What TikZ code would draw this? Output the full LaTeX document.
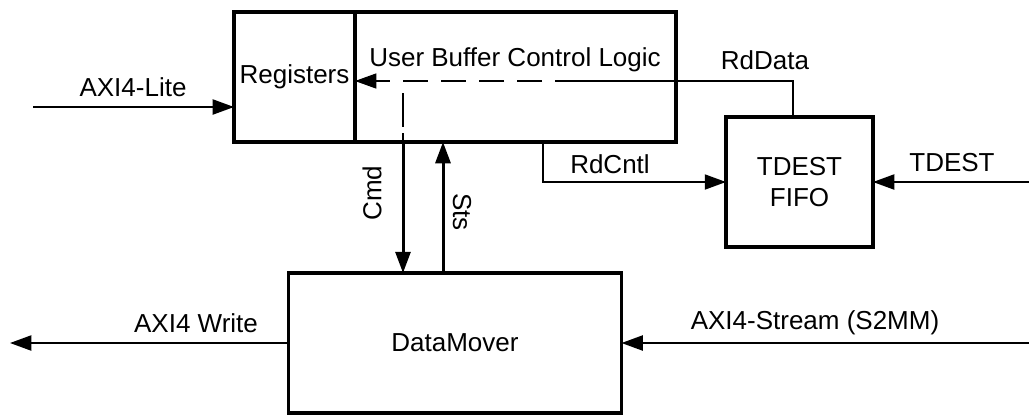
\documentclass[tikz,border=0pt]{standalone}
\usepackage{fontspec}
\setmainfont{Liberation Sans}
\usetikzlibrary{arrows.meta}

\begin{document}
\begin{tikzpicture}[x=0.4pt, y=-0.4pt, >={Triangle[length=8.5pt,width=6pt]},
  every node/.style={font=\fontsize{10.4}{12.5}\selectfont}]
\tikzstyle{bloc} = [draw, line width=1.4pt, inner sep=0pt, outer sep=0pt, align=center];
\tikzstyle{fil} = [line width=0.8pt];
\tikzstyle{bus} = [line width=1.2pt];
\tikzstyle{etiq} = [inner sep=0pt];
\useasboundingbox (0,0) rectangle (1029,415);

\node[bloc, minimum width=48.4pt, minimum height=52pt] (regs) at (294.5,77) {Registers};
\node[bloc, minimum width=128.4pt, minimum height=52pt] (logic) at (515.5,77) {};
\node[etiq] (logictxt) at (515,60) {User Buffer Control Logic};
\node[bloc, minimum width=58.8pt, minimum height=52pt] (fifo) at (799.5,182) {TDEST\\FIFO};
\node[bloc, minimum width=133.2pt, minimum height=56pt] (dm) at (455,343) {DataMover};

\coordinate (litein) at (33,107);
\coordinate (wrout) at (10,343);
\coordinate (strin) at (1029,343);
\coordinate (tdin) at (1029,182);
\coordinate (rdbend) at (580,81);
\coordinate (dashtop) at (403,93);
\coordinate (cmdx) at (403,0);
\coordinate (stsx) at (443,0);
\coordinate (cntlx) at (543,0);

\draw[->, fil] (litein) -- (regs.west |- litein);
\draw[->, fil] (dm.west) -- (wrout);
\draw[->, fil] (strin) -- (dm.east);
\draw[->, fil] (tdin) -- (fifo.east);
\draw[->, fil] (logic.south -| cntlx) |- (fifo.west);
\draw[line width=0.5pt] (fifo.north -| 793,0) |- (rdbend);
\draw[->, line width=0.5pt, dash pattern=on 10pt off 5.2pt] (rdbend) -- (regs.east |- rdbend);
\draw[line width=0.5pt, dash pattern=on 13.6pt off 2.4pt] (dashtop) -- (logic.south -| cmdx);
\draw[->, bus] (logic.south -| cmdx) -- (dm.north -| cmdx);
\draw[->, bus] (dm.north -| stsx) -- (logic.south -| stsx);

\node[etiq] (litelbl) at (133,87) {AXI4-Lite};
\node[etiq] (wrlbl) at (196,323) {AXI4 Write};
\node[etiq] (strlbl) at (815,323) {AXI4-Stream (S2MM)};
\node[etiq] (tdlbl) at (952,163) {TDEST};
\node[etiq] (cntllbl) at (610,164) {RdCntl};
\node[etiq] (datalbl) at (765,60) {RdData};
\node[etiq, rotate=90] (cmdlbl) at (372,193) {Cmd};
\node[etiq, rotate=-90] (stslbl) at (462,212) {Sts};
\end{tikzpicture}
\end{document}
